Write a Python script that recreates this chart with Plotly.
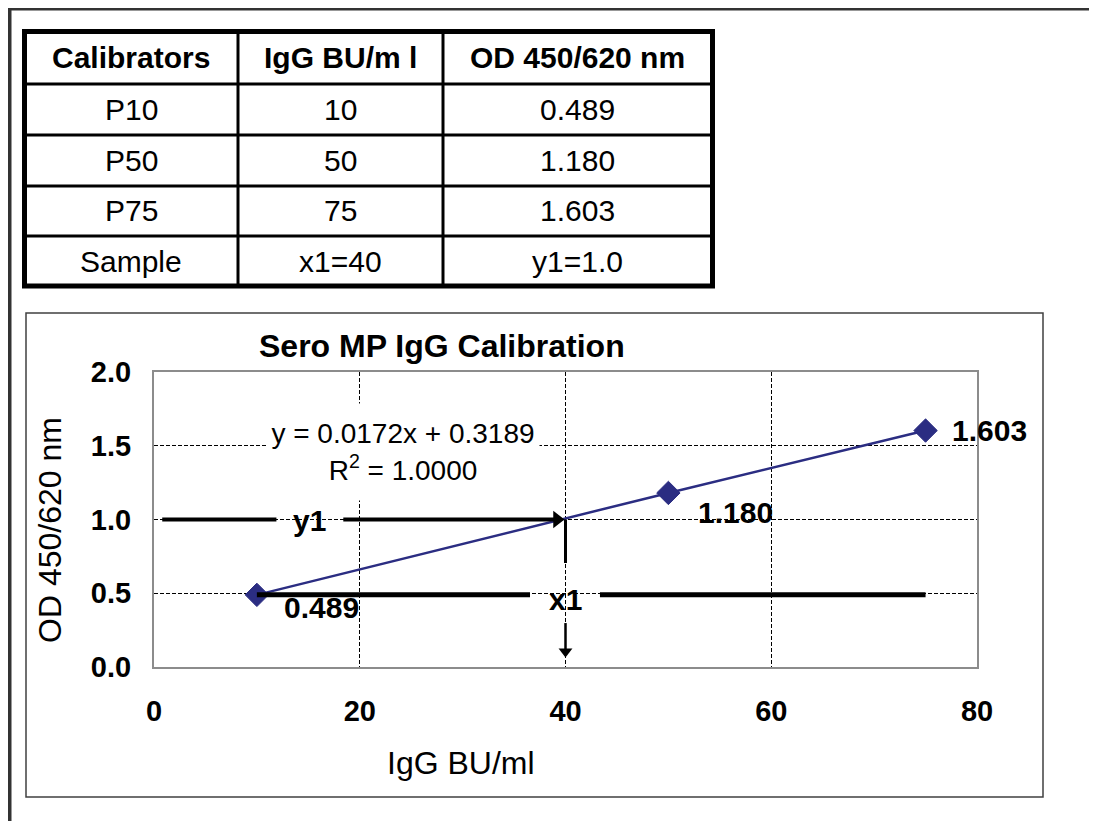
import numpy as np
import plotly.graph_objects as go

# ---------------- data ----------------
table_header = ["Calibrators", "IgG BU/m l", "OD 450/620 nm"]
calibrators = ["P10", "P50", "P75"]
conc = [10, 50, 75]            # IgG BU/ml
od = [0.489, 1.180, 1.603]     # OD 450/620 nm
sample_name = "Sample"
x1 = 40
y1 = 1.0

x_ticks = [0, 20, 40, 60, 80]
y_ticks = [0.0, 0.5, 1.0, 1.5, 2.0]

title_text = "Sero MP IgG Calibration"
x_title = "IgG BU/ml"
y_title = "OD 450/620 nm"

# linear fit (Excel trendline)
slope, intercept = np.polyfit(conc, od, 1)
pred = np.polyval([slope, intercept], conc)
ss_res = float(np.sum((np.array(od) - pred) ** 2))
ss_tot = float(np.sum((np.array(od) - np.mean(od)) ** 2))
r2 = 1 - ss_res / ss_tot

# ---------------- layout helpers ----------------
W, H = 1097, 821
OFF = 8   # page body margin offset
FONT = "Liberation Sans, Arial, sans-serif"
NAVY = "#2b2d82"
PLOT_L, PLOT_R, PLOT_T, PLOT_B = 154, 977, 372, 667
XPX = (PLOT_R - PLOT_L) / 80.0   # pixels per x unit
YPX = (PLOT_B - PLOT_T) / 2.0    # pixels per y unit


def px(x):
    return (x - OFF) / W


def py(y):
    return 1 - (y - OFF) / H


fig = go.Figure()

# calibration points and connecting line
fig.add_trace(go.Scatter(
    x=conc, y=od, mode="lines+markers",
    line=dict(color=NAVY, width=2.5),
    marker=dict(symbol="diamond", size=18, color=NAVY, line=dict(color=NAVY, width=1)),
    showlegend=False, hoverinfo="skip",
))

shapes = []
annotations = []

# outer frame (top + left)
shapes.append(dict(type="line", xref="paper", yref="paper", x0=px(7), x1=1, y0=py(8), y1=py(8),
                   line=dict(color="#333333", width=5)))
shapes.append(dict(type="line", xref="paper", yref="paper", x0=px(9), x1=px(9), y0=py(6), y1=0,
                   line=dict(color="#333333", width=5)))

# ---------------- table ----------------
col_edges = [24.5, 238, 443, 712.5]
row_edges = [31.5, 84, 135, 186, 236, 286]
shapes.append(dict(type="rect", xref="paper", yref="paper",
                   x0=px(col_edges[0]), x1=px(col_edges[-1]), y0=py(row_edges[0]), y1=py(row_edges[-1]),
                   line=dict(color="black", width=5), fillcolor="white", layer="below"))
for cx in col_edges[1:-1]:
    shapes.append(dict(type="line", xref="paper", yref="paper", x0=px(cx), x1=px(cx),
                       y0=py(row_edges[0]), y1=py(row_edges[-1]), line=dict(color="black", width=3)))
for ry in row_edges[1:-1]:
    shapes.append(dict(type="line", xref="paper", yref="paper", x0=px(col_edges[0]), x1=px(col_edges[-1]),
                       y0=py(ry), y1=py(ry), line=dict(color="black", width=3)))

rows = [table_header]
for name, c, v in zip(calibrators, conc, od):
    rows.append([name, str(c), f"{v:.3f}"])
rows.append([sample_name, f"x1={x1}", f"y1={y1}"])

for ri, row in enumerate(rows):
    yc = (row_edges[ri] + row_edges[ri + 1]) / 2
    for ci, txt in enumerate(row):
        xc = (col_edges[ci] + col_edges[ci + 1]) / 2
        annotations.append(dict(
            xref="paper", yref="paper", x=px(xc), y=py(yc), xanchor="center", yanchor="middle",
            text=f"<b>{txt}</b>" if ri == 0 else txt, showarrow=False,
            font=dict(family=FONT, size=30, color="black")))

# ---------------- chart box ----------------
shapes.append(dict(type="rect", xref="paper", yref="paper", x0=px(26), x1=px(1043), y0=py(313), y1=py(797),
                   line=dict(color="#404040", width=1.5), layer="below"))

# title / axis titles
annotations.append(dict(xref="paper", yref="paper", x=px(442), y=py(346), text=f"<b>{title_text}</b>",
                        showarrow=False, xanchor="center", yanchor="middle",
                        font=dict(family=FONT, size=32, color="black")))
annotations.append(dict(xref="paper", yref="paper", x=px(461), y=py(763), text=x_title,
                        showarrow=False, xanchor="center", yanchor="middle",
                        font=dict(family=FONT, size=32, color="black")))
annotations.append(dict(xref="paper", yref="paper", x=px(50), y=py(530), text=y_title, textangle=-90,
                        showarrow=False, xanchor="center", yanchor="middle",
                        font=dict(family=FONT, size=32, color="black")))

# equation box
eq_text = f"y = {slope:.4f}x + {intercept:.4f}<br>R<sup>2</sup> = {r2:.4f}"
annotations.append(dict(xref="x", yref="y", x=24.2, y=1.455, text=eq_text, showarrow=False,
                        xanchor="center", yanchor="middle", bgcolor="white", width=270, height=94,
                        font=dict(family=FONT, size=28, color="black")))

# data labels (offset from the points)
label_offsets = [(65, -13), (67, -20), (64, 0)]
for c, v, (dx, dy) in zip(conc, od, label_offsets):
    annotations.append(dict(xref="x", yref="y", x=c, y=v, text=f"<b>{v:.3f}</b>", showarrow=False,
                            xanchor="center", yanchor="middle", xshift=dx, yshift=dy,
                            font=dict(family=FONT, size=30, color="black")))

# ---- y1 reading line with arrow to the curve ----
shapes.append(dict(type="line", xref="x", yref="y", x0=0.8, x1=11.9, y0=y1, y1=y1,
                   line=dict(color="black", width=4)))
shapes.append(dict(type="line", xref="x", yref="y", x0=18.4, x1=x1 - 10 / XPX, y0=y1, y1=y1,
                   line=dict(color="black", width=4)))
annotations.append(dict(xref="x", yref="y", x=15.16, y=y1, yshift=-1, text="<b>y1</b>", showarrow=False,
                        xanchor="center", yanchor="middle", font=dict(family=FONT, size=30, color="black")))

# ---- x1 reading line with arrow down to the axis ----
shapes.append(dict(type="line", xref="x", yref="y", x0=x1, x1=x1, y0=y1, y1=0.705,
                   line=dict(color="black", width=3)))
annotations.append(dict(xref="x", yref="y", x=x1, y=0.461, text="<b>x1</b>", showarrow=False,
                        xanchor="center", yanchor="middle", font=dict(family=FONT, size=30, color="black")))
shapes.append(dict(type="line", xref="x", yref="y", x0=x1, x1=x1, y0=0.298, y1=0.058 + 8 / YPX,
                   line=dict(color="black", width=2.5)))

# arrowheads (triangle markers whose tips sit on the targets)
fig.add_trace(go.Scatter(
    x=[x1 - 8.5 / XPX], y=[y1], mode="markers",
    marker=dict(symbol="triangle-right", size=15, color="black", line=dict(width=0)),
    showlegend=False, hoverinfo="skip", cliponaxis=False,
))
fig.add_trace(go.Scatter(
    x=[x1], y=[0.058 + 7 / YPX], mode="markers",
    marker=dict(symbol="triangle-down", size=12, color="black", line=dict(width=0)),
    showlegend=False, hoverinfo="skip", cliponaxis=False,
))

# thick horizontal line at the lowest calibrator
shapes.append(dict(type="line", xref="x", yref="y", x0=conc[0], x1=36.55, y0=od[0], y1=od[0],
                   line=dict(color="black", width=5)))
shapes.append(dict(type="line", xref="x", yref="y", x0=43.35, x1=conc[-1], y0=od[0], y1=od[0],
                   line=dict(color="black", width=5)))

fig.update_layout(
    width=W, height=H, autosize=False,
    margin=dict(l=0, r=0, t=0, b=0, autoexpand=False),
    paper_bgcolor="white", plot_bgcolor="white",
    shapes=shapes, annotations=annotations,
    showlegend=False,
    xaxis=dict(domain=[px(PLOT_L), px(PLOT_R)], range=[0, 80], tickvals=x_ticks, automargin=False,
               ticktext=[str(t) for t in x_ticks], showgrid=True, gridcolor="black", gridwidth=1,
               griddash="4px,2px", zeroline=False, showline=True, linecolor="#8c8c8c", linewidth=2,
               mirror=True, ticks="", ticklabelstandoff=17,
               tickfont=dict(family=FONT, size=29, color="black", weight="bold"), fixedrange=True),
    yaxis=dict(domain=[py(PLOT_B), py(PLOT_T)], range=[0, 2], tickvals=y_ticks, automargin=False,
               ticktext=[f"{t:.1f}" for t in y_ticks], showgrid=True, gridcolor="black", gridwidth=1,
               griddash="4px,2px", zeroline=False, showline=True, linecolor="#8c8c8c", linewidth=2,
               mirror=True, ticks="", ticklabelstandoff=15,
               tickfont=dict(family=FONT, size=29, color="black", weight="bold"), fixedrange=True),
)

fig.write_html("out.html")
